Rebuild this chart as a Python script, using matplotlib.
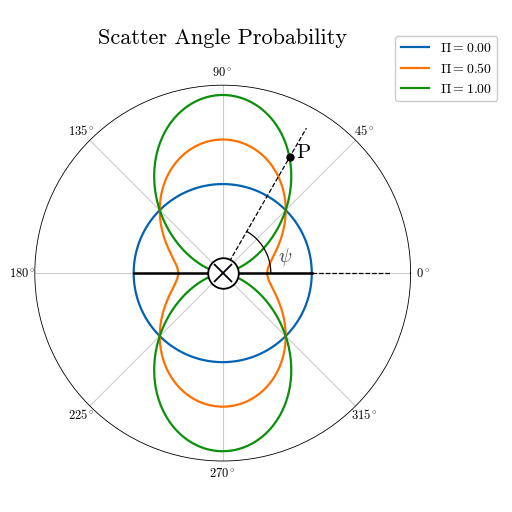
import numpy as np
import matplotlib
matplotlib.use("Agg")
import matplotlib.pyplot as plt

plt.rcParams["font.family"] = "serif"
plt.rcParams["font.serif"] = ["cmr10", "DejaVu Serif"]
plt.rcParams["mathtext.fontset"] = "cm"
plt.rcParams["axes.unicode_minus"] = False

# polarisation degrees and line colours
pol_values = [0.0, 0.5, 1.0]
pol_colors = ["#0062b0", "#ff7000", "#0a900a"]
angle_ticks = [0, 45, 90, 135, 180, 225, 270, 315]
tick_labels = [r"$%d^\circ$" % a for a in angle_ticks]

# marked direction of the scattered photon
psi_point = np.pi / 3
p_radius = 0.75

psi = np.linspace(0, 2 * np.pi, 721)

fig = plt.figure(figsize=(5.12, 5.12), dpi=100)
ax = fig.add_axes([0.068, 0.0996, 0.734, 0.734], projection="polar")

for pol, col in zip(pol_values, pol_colors):
    r = (1 - pol * np.cos(2 * psi)) / 2
    ax.plot(psi, r, color=col, lw=1.6, label=r"$\Pi = %.2f$" % pol)

# thick line along the polarisation axis
ax.plot([np.pi, 0], [0.5, 0], color="black", lw=1.8, zorder=3)
ax.plot([0, 0], [0, 0.5], color="black", lw=1.8, zorder=3)

# dashed reference lines
ax.plot([0, 0], [0.5, 0.94], color="black", lw=0.9, ls="--", zorder=3)
ax.plot([psi_point, psi_point], [0, 0.94], color="black", lw=0.9, ls="--", zorder=3)

# angle arc
arc = np.linspace(0, psi_point, 60)
ax.plot(arc, np.full_like(arc, 0.27), color="black", lw=0.9, zorder=3)
ax.text(np.radians(15), 0.36, r"$\psi$", fontsize=14, color="#444444",
        ha="center", va="center")

# point P
ax.plot([psi_point], [p_radius], "o", color="black", ms=5, zorder=4)
ax.annotate("P", (psi_point, p_radius), xytext=(5, 3), textcoords="offset points",
            fontsize=15, ha="left", va="center")

# beam direction into the page
ax.plot([0], [0], "o", ms=22, mfc="white", mec="black", mew=1.3, zorder=5)
ax.plot([0], [0], "x", ms=13, color="black", mew=1.3, zorder=6)

ax.set_ylim(0, 1.055)
ax.set_yticks([])
ax.set_xticks(np.radians(angle_ticks))
ax.set_xticklabels(tick_labels, fontsize=9)
ax.tick_params(axis="x", pad=-1.5)
ax.grid(True, color="#cccccc", lw=0.8)
ax.spines["polar"].set_linewidth(0.6)
ax.set_title("Scatter Angle Probability", fontsize=16, pad=30)

fig.legend(loc="upper right", bbox_to_anchor=(0.985, 0.943), fontsize=10,
           framealpha=1, edgecolor="#cccccc")

plt.savefig("out.png", dpi=100)
